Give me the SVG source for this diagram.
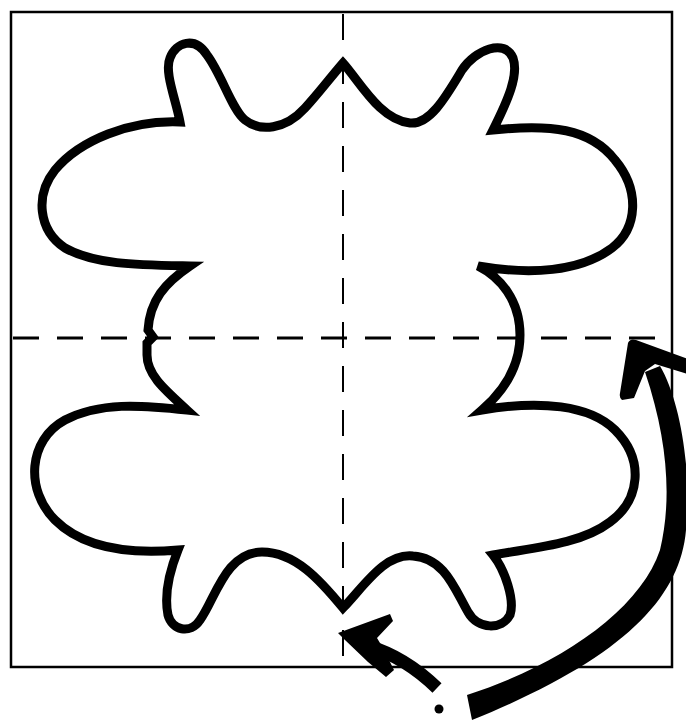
<svg xmlns="http://www.w3.org/2000/svg" width="686" height="720" viewBox="0 0 686 720">
  <style>
    .frame { fill: none; stroke: #000; stroke-width: 2.5; }
    .axis { fill: none; stroke: #000; stroke-dasharray: 26 18; }
    .blob { fill: #fff; stroke: #000; stroke-width: 9; stroke-linejoin: miter; stroke-miterlimit: 6; }
    .ink { fill: #000; stroke: none; }
  </style>
  <rect x="0" y="0" width="686" height="720" fill="#fff"/>
  <g id="frame">
    <rect class="frame" x="11" y="12" width="661" height="655"/>
  </g>
  <g id="shape">
    <path class="blob" d="M343,63 C360,82 380,120 410,123 C430,125 447,95 462,70 C475,50 505,38 513,58 C519,75 508,100 493,130 C550,124 590,128 615,160 C640,190 638,228 612,248 C580,272 530,275 478,266 C500,277 520,300 520,335 C520,365 505,390 482,410 C540,400 590,405 615,430 C645,460 640,500 610,522 C580,545 530,548 493,555 C505,570 515,600 510,615 C502,630 478,630 468,612 C455,590 445,558 413,556 C385,553 365,585 343,608 C320,580 295,552 262,552 C225,552 215,600 200,620 C190,635 172,630 168,615 C164,595 170,570 178,550 C120,555 80,545 55,520 C25,490 28,440 65,420 C100,402 140,405 187,410 C165,390 147,375 147,355 L147,343 L153,337 L148,330 C150,300 165,283 190,266 C140,265 95,265 65,248 C38,230 35,195 55,170 C80,140 130,120 180,122 C176,100 164,72 170,58 C176,42 195,36 207,55 C222,75 232,110 245,120 C260,132 285,130 305,108 C318,94 330,78 343,63 Z"/>
  </g>
  <g id="axes">
    <line class="axis" x1="343" y1="14" x2="343" y2="667" stroke-width="2"/>
    <line class="axis" x1="13" y1="338" x2="672" y2="338" stroke-width="3"/>
  </g>
  <g id="connectors">
    <g id="big-arrow">
      <path class="ink" d="M467,695 C560,665 640,610 660,550 C672,500 668,440 645,372 L660,366 C680,400 692,470 686,530 C680,600 620,660 472,720 Z"/>
      <path class="ink" d="M628,343 Q630,338 636,340 L688,359 L688,374 L655,364 L645,371 L634,398 L622,400 Q619,398 620,393 Z"/>
    </g>
    <g id="small-arrow">
      <path d="M368,646 Q405,657 437,688" fill="none" stroke="#000" stroke-width="13"/>
      <path class="ink" d="M338,633 L390,614 L393,621 L377,638 L383,648 L394,670 L386,677 L368,662 L345,640 Z"/>
      <circle class="ink" cx="439" cy="709" r="4.5"/>
    </g>
  </g>
</svg>
